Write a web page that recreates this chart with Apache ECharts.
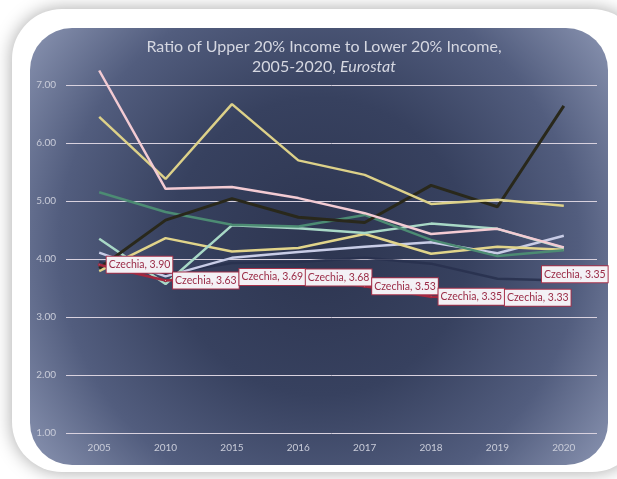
<!DOCTYPE html>
<html>
<head>
<meta charset="utf-8">
<script src="https://cdn.jsdelivr.net/npm/echarts@6/dist/echarts.min.js"></script>
<style>
    html, body { margin: 0; padding: 0; background: #fff; }
    #main { width: 617px; height: 479px; }
</style>
</head>
<body>
<div id="main"></div>
<script>
var years = ['2005', '2010', '2015', '2016', '2017', '2018', '2019', '2020'];
var yTicks = [1, 7, 1]; // min, max, interval

// one list per line
var czechia = [3.90, 3.63, 3.69, 3.68, 3.53, 3.35, 3.33, 3.35];
var pinkLine = [7.25, 5.21, 5.24, 5.05, 4.79, 4.43, 4.52, 4.20];
var yellowTop = [6.45, 5.38, 6.67, 5.70, 5.45, 4.95, 5.02, 4.92];
var darkLine = [3.84, 4.67, 5.04, 4.72, 4.63, 5.27, 4.90, 6.64];
var greenLine = [5.15, 4.81, 4.59, 4.56, 4.76, 4.33, 4.05, 4.15];
var mintLine = [4.35, 3.57, 4.58, 4.53, 4.45, 4.61, 4.52, 4.19];
var yellowLow = [3.79, 4.36, 4.13, 4.19, 4.43, 4.09, 4.21, 4.16];
var lavenderLine = [4.11, 3.70, 4.02, 4.12, 4.21, 4.29, 4.10, 4.40];
var navyLine = [3.95, 3.75, 3.93, 3.95, 4.02, 3.92, 3.66, 3.63];

var chart = echarts.init(document.getElementById('main'));

function plain(name, data, color, width) {
    return {
        name: name,
        type: 'line',
        data: data,
        showSymbol: false,
        silent: true,
        clip: false,
        lineStyle: { color: color, width: width || 2.5 },
        itemStyle: { color: color },
        z: 2
    };
}

var czData = czechia.map(function (v, i) {
    if (i === czechia.length - 1) {
        return { value: v, label: { position: 'top', offset: [11, -7] } };
    }
    return v;
});

var option = {
    backgroundColor: '#ffffff',
    animation: false,
    textStyle: { fontFamily: 'Lato' },
    graphic: {
        z: -1,
        elements: [{
            type: 'rect',
            shape: { x: 12, y: 9, width: 630, height: 463, r: 50 },
            style: { fill: '#ffffff', shadowBlur: 18, shadowColor: 'rgba(0,0,0,0.35)' }
        }, {
            type: 'rect',
            shape: { x: 30, y: 28, width: 578, height: 437, r: 42 },
            style: {
                fill: new echarts.graphic.RadialGradient(0.5, 0.5, 0.85, [
                    { offset: 0, color: '#2d3550' },
                    { offset: 0.4, color: '#37415f' },
                    { offset: 0.7, color: '#525d7e' },
                    { offset: 1, color: '#8f99b6' }
                ])
            }
        }]
    },
    title: {
        text: 'Ratio of Upper 20% Income to Lower 20% Income,\n2005-2020, {i|Eurostat}',
        left: 319,
        top: 32,
        textAlign: 'center',
        textStyle: {
            color: '#d5d7e1',
            fontSize: 16,
            fontWeight: 'normal',
            fontFamily: 'Lato',
            lineHeight: 20,
            rich: {
                i: { fontStyle: 'italic', fontSize: 16, color: '#d5d7e1', fontFamily: 'Lato', lineHeight: 20 }
            }
        }
    },
    grid: { left: 66, right: 20, top: 85, bottom: 46 },
    xAxis: {
        type: 'category',
        data: years,
        boundaryGap: true,
        axisLine: { show: false },
        axisTick: { show: false },
        axisLabel: { color: '#c9ccd9', fontSize: 10, margin: 10 }
    },
    yAxis: {
        type: 'value',
        min: yTicks[0],
        max: yTicks[1],
        interval: yTicks[2],
        axisLine: { show: false },
        axisTick: { show: false },
        axisLabel: {
            color: '#c9ccd9',
            fontSize: 10,
            margin: 10,
            formatter: function (v) { return v.toFixed(2); }
        },
        splitLine: { lineStyle: { color: '#d9d2df', width: 1 } }
    },
    series: [
        plain('navy', navyLine, 'rgba(40,48,78,0.85)'),
        plain('lavender', lavenderLine, '#c8cce6'),
        plain('yellow low', yellowLow, '#e1d48a'),
        plain('mint', mintLine, '#a8d8c6'),
        plain('green', greenLine, '#4c8b73'),
        plain('dark', darkLine, '#29281b', 3),
        plain('yellow top', yellowTop, '#ddd189'),
        plain('pink', pinkLine, '#f3cbd3'),
        {
            name: 'Czechia',
            type: 'line',
            data: czData,
            showSymbol: true,
            symbolSize: 1,
            silent: true,
            lineStyle: { color: '#a3283f', width: 2.5 },
            itemStyle: { color: '#a3283f' },
            z: 3,
            label: {
                show: true,
                position: 'right',
                distance: 6,
                formatter: function (p) {
                    return 'Czechia, ' + Number(p.value).toFixed(2);
                },
                color: '#9a2b46',
                fontSize: 10.5,
                fontFamily: 'Lato',
                backgroundColor: '#f3f1f5',
                borderColor: '#a6324b',
                borderWidth: 1,
                padding: [3, 2, 2, 2]
            }
        }
    ]
};

chart.setOption(option);
</script>
</body>
</html>
